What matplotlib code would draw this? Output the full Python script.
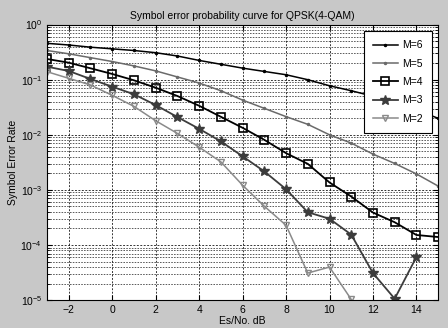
import numpy as np
import matplotlib.pyplot as plt

plt.rcParams['font.family'] = ['Liberation Sans', 'DejaVu Sans']

# Es/No values (dB)
snr = np.arange(-3, 16)

# log10 of symbol error rate
m6 = [-0.34, -0.37, -0.41, -0.44, -0.47, -0.51, -0.57, -0.65, -0.72, -0.79,
      -0.85, -0.91, -1.00, -1.11, -1.20, -1.30, -1.42, -1.55, -1.70]
m5 = [-0.47, -0.53, -0.60, -0.67, -0.75, -0.84, -0.95, -1.06, -1.20, -1.37,
      -1.52, -1.67, -1.81, -2.00, -2.15, -2.35, -2.52, -2.71, -2.93]
m4 = [-0.624, -0.691, -0.793, -0.896, -1.011, -1.145, -1.296, -1.473, -1.673, -1.873,
      -2.091, -2.333, -2.527, -2.865, -3.12, -3.411, -3.587, -3.818, -3.855]
m3 = [-0.764, -0.842, -0.987, -1.127, -1.264, -1.46, -1.678, -1.891, -2.12, -2.39,
      -2.665, -2.987, -3.405, -3.524, -3.811, -4.509, -4.975, -4.218, np.nan]
m2 = [-0.855, -0.975, -1.096, -1.284, -1.484, -1.745, -1.975, -2.224, -2.491, -2.915,
      -3.296, -3.642, -4.509, -4.4, -4.987, np.nan, np.nan, np.nan, np.nan]

fig = plt.figure(figsize=(4.48, 3.28), dpi=100, facecolor='#c8c8c8')
ax = fig.add_axes([0.105, 0.085, 0.873, 0.840])

ax.semilogy(snr, 10 ** np.array(m6), color='black', lw=1.1, marker='.', ms=3, label='M=6')
ax.semilogy(snr, 10 ** np.array(m5), color='#6a6a6a', lw=1.1, marker='.', ms=3, label='M=5')
ax.semilogy(snr, 10 ** np.array(m4), color='black', lw=1.3, marker='s', ms=5.5,
            mfc='none', mew=1.2, label='M=4')
ax.semilogy(snr, 10 ** np.array(m3), color='#3c3c3c', lw=1.3, marker='*', ms=7, label='M=3')
ax.semilogy(snr, 10 ** np.array(m2), color='#8a8a8a', lw=1.1, marker='v', ms=4,
            mfc='none', mew=1.0, label='M=2')

ax.set_xlim(-3, 15)
ax.set_ylim(1e-5, 1)
ax.set_xticks(np.arange(-2, 15, 2))
ax.set_yticks([1e0, 1e-1, 1e-2, 1e-3, 1e-4, 1e-5])

ax.grid(True, which='major', color='black', linestyle=(0, (2.5, 2)), linewidth=0.55)
ax.grid(True, which='minor', axis='y', color='black', linestyle=(0, (2.5, 2)), linewidth=0.45)
ax.tick_params(which='both', direction='in', top=True, right=True, labelsize=7.5)
ax.tick_params(which='minor', length=2)

ax.set_title('Symbol error probability curve for QPSK(4-QAM)', fontsize=7.5, pad=4)
ax.set_xlabel('Es/No. dB', fontsize=7.5, labelpad=1)
ax.set_ylabel('Symbol Error Rate', fontsize=7.5, labelpad=2)

leg = ax.legend(loc='upper right', bbox_to_anchor=(0.99, 0.985), fontsize=7.5,
                fancybox=False, edgecolor='black', framealpha=1,
                handlelength=2.4, handletextpad=0.4, labelspacing=0.8,
                borderpad=0.9, borderaxespad=0.2)
leg.get_frame().set_linewidth(0.8)

fig.savefig('out.png', dpi=100, facecolor=fig.get_facecolor())
